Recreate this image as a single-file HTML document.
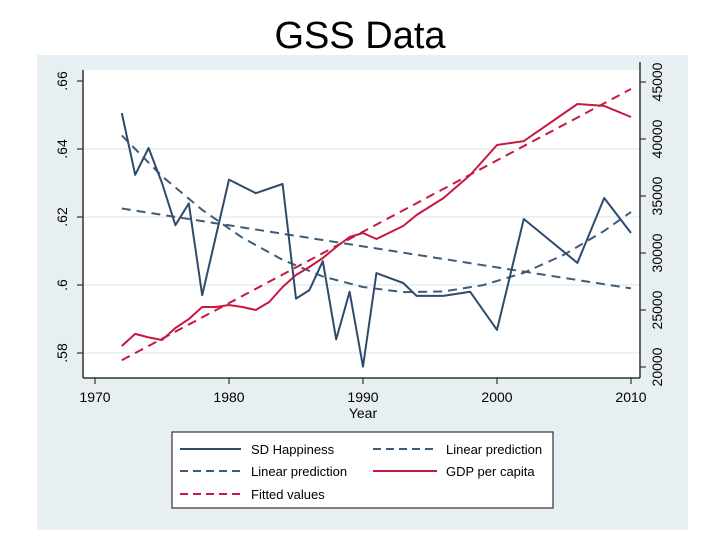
<!DOCTYPE html>
<html><head><meta charset="utf-8"><style>
body{margin:0;background:#fff;}
svg{display:block;font-family:"Liberation Sans",Arial,sans-serif;}
</style></head><body>
<svg id="chart" width="720" height="540" viewBox="0 0 720 540">
<text x="360" y="48" text-anchor="middle" font-size="38" fill="#000">GSS Data</text>
<rect x="37" y="55" width="651" height="475" fill="#e8eff3"/>
<rect x="83" y="70" width="557" height="308" fill="#fff"/>
<g id="grid"></g><g id="series"></g><g id="axes"></g>
<g>
<rect x="172" y="432" width="381" height="76" fill="#fff" stroke="#333" stroke-width="1.2"/>
<line x1="180" y1="449" x2="241" y2="449" stroke="#2f4b6b" stroke-width="2"/>
<text x="251" y="454" font-size="13">SD Happiness</text>
<line x1="373" y1="449" x2="437" y2="449" stroke="#3e5b78" stroke-width="2" stroke-dasharray="8,5"/>
<text x="446" y="454" font-size="13">Linear prediction</text>
<line x1="180" y1="471" x2="241" y2="471" stroke="#3e5b78" stroke-width="2" stroke-dasharray="8,5"/>
<text x="251" y="476" font-size="13">Linear prediction</text>
<line x1="373" y1="471" x2="437" y2="471" stroke="#c8183f" stroke-width="2"/>
<text x="446" y="476" font-size="13">GDP per capita</text>
<line x1="180" y1="494" x2="241" y2="494" stroke="#c8183f" stroke-width="2" stroke-dasharray="8,5"/>
<text x="251" y="499" font-size="13">Fitted values</text>
</g>
</svg>
<script>
const sdYears=[1972,1973,1974,1975,1976,1977,1978,1980,1982,1984,1985,1986,1987,1988,1989,1990,1991,1993,1994,1996,1998,2000,2002,2006,2008,2010];
const sdValues=[.6506,.6324,.6403,.630,.6176,.624,.597,.631,.627,.6297,.596,.5985,.607,.584,.598,.576,.6035,.6006,.5968,.5968,.598,.5868,.6194,.6065,.6256,.6153];
const gdpYears=[1972,1973,1974,1975,1976,1977,1978,1979,1980,1981,1982,1983,1984,1985,1986,1987,1988,1989,1990,1991,1993,1994,1996,1998,2000,2002,2006,2008,2010];
const gdpValues=[21840,22900,22600,22370,23420,24200,25260,25260,25440,25260,25000,25700,27020,28070,28770,29560,30530,31400,31750,31230,32370,33330,34820,36840,39470,39820,43070,42900,41930];
const linYears=[1972,2010];
const linValues=[.6225,.599];
const quadYears=[1972,1975,1978,1981,1984,1987,1990,1993,1996,1999,2002,2005,2008,2010];
const quadValues=[.644,.632,.6221,.6139,.6074,.6025,.5994,.5979,.5981,.6000,.6036,.6089,.6159,.6215];
const fitYears=[1972,2010];
const fitValues=[20600,44390];
const xTicks=[1970,1980,1990,2000,2010];
const yLeftTicks=[.58,.6,.62,.64,.66];
const yLeftLabels=[".58",".6",".62",".64",".66"];
const yRightTicks=[20000,25000,30000,35000,40000,45000];

const NS="http://www.w3.org/2000/svg";
const xS=v=>95+(v-1970)*13.4;
const yL=v=>353-(v-.58)/.02*68;
const yR=v=>367-(v-20000)/5000*57;
function mk(tag,attrs,parent){const e=document.createElementNS(NS,tag);for(const k in attrs)e.setAttribute(k,attrs[k]);parent.appendChild(e);return e;}
const grid=document.getElementById('grid'),ser=document.getElementById('series'),ax=document.getElementById('axes');
yLeftTicks.forEach(v=>{if(v<.66){const l=mk('line',{x1:83,x2:640,y1:yL(v),y2:yL(v),stroke:'#e6edf1','stroke-width':1.5},grid);

}});
function path(xs,ys,yf,stroke,dash,name){
 const d=xs.map((x,i)=>(i?'L':'M')+xS(x).toFixed(1)+','+yf(ys[i]).toFixed(1)).join(' ');
 const p=mk('path',{d:d,fill:'none',stroke:stroke,'stroke-width':2,'stroke-linejoin':'round'},ser);
 if(dash)p.setAttribute('stroke-dasharray',dash);
 
 
}
path(linYears,linValues,yL,'#3e5b78','9,6','linear-prediction-line');
path(quadYears,quadValues,yL,'#3e5b78','9,6','quadratic-prediction-line');
path(fitYears,fitValues,yR,'#c8183f','9,6','fitted-values-line');
path(gdpYears,gdpValues,yR,'#c8183f',null,'gdp-per-capita-line');
path(sdYears,sdValues,yL,'#2f4b6b',null,'sd-happiness-line');
let a=mk('line',{x1:83,x2:83,y1:70,y2:378,stroke:'#333','stroke-width':1.5},ax);


a=mk('line',{x1:640,x2:640,y1:62,y2:378,stroke:'#333','stroke-width':1.5},ax);


a=mk('line',{x1:83,x2:640,y1:378,y2:378,stroke:'#333','stroke-width':1.5},ax);


xTicks.forEach(v=>{mk('line',{x1:xS(v),x2:xS(v),y1:378,y2:384,stroke:'#333','stroke-width':1.2},ax);
 const t=mk('text',{x:xS(v),y:402,'text-anchor':'middle','font-size':14},ax);t.textContent=v;
 
 });
yLeftTicks.forEach((v,i)=>{const y=yL(v);mk('line',{x1:77,x2:83,y1:y,y2:y,stroke:'#333','stroke-width':1.2},ax);
 const t=mk('text',{x:0,y:0,'text-anchor':'middle','font-size':14,transform:`translate(67,${y}) rotate(-90)`},ax);t.textContent=yLeftLabels[i];
 
 });
yRightTicks.forEach(v=>{const y=yR(v);mk('line',{x1:640,x2:646,y1:y,y2:y,stroke:'#333','stroke-width':1.2},ax);
 const t=mk('text',{x:0,y:0,'text-anchor':'middle','font-size':14,transform:`translate(662,${y}) rotate(-90)`},ax);t.textContent=v;
 
 });
const xt=mk('text',{x:363,y:418,'text-anchor':'middle','font-size':14},ax);xt.textContent='Year';


</script>
</body></html>
